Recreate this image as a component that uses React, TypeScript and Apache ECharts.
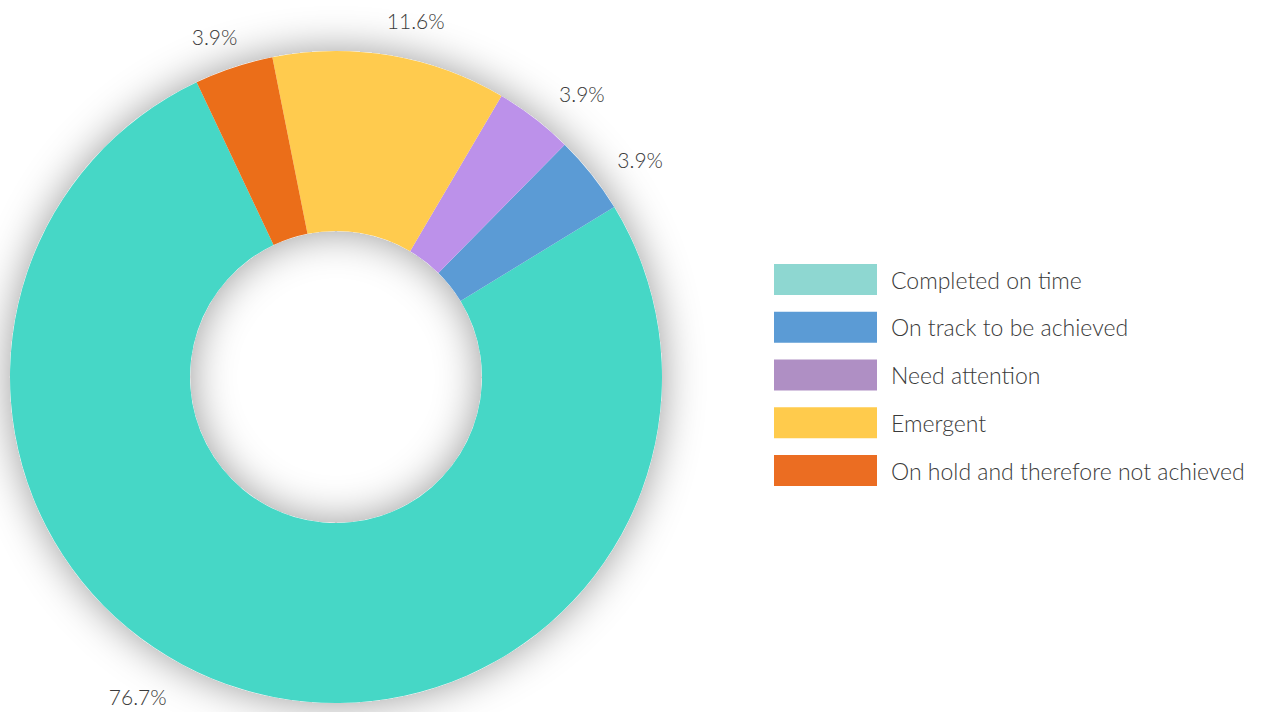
import React, { useEffect, useRef } from "react";
import * as echarts from "echarts";

const categories = [
  "Completed on time",
  "On track to be achieved",
  "Need attention",
  "Emergent",
  "On hold and therefore not achieved",
];
const values = [76.7, 3.9, 3.9, 11.6, 3.9];
const sliceColors = ["#46D7C6", "#5B9BD5", "#BC91EA", "#FFCB4E", "#EB6E19"];
const legendColors = ["#8ED7D1", "#5B9BD5", "#AF8FC4", "#FFCB4C", "#EB6D22"];
// label nudges (px) relative to the default outside position
const labelNudges = [
  [-67, -6],
  [10, -6],
  [11, -14],
  [-11, -21],
  [13, -18],
];

const FONT = "Lato, 'Open Sans', sans-serif";

export default function App() {
  const ref = useRef<HTMLDivElement>(null);
  useEffect(() => {
    document.body.style.margin = "0";
    const chart = echarts.init(ref.current!, null, { renderer: "svg" });
    chart.setOption({
      animation: false,
      backgroundColor: "#ffffff",
      legend: {
        orient: "vertical",
        left: 769,
        top: 259,
        itemWidth: 103,
        itemHeight: 31,
        itemGap: 16.75,
        icon: "rect",
        selectedMode: false,
        data: categories.map((c, i) => ({
          name: c,
          itemStyle: { color: legendColors[i] },
        })),
        textStyle: {
          fontFamily: FONT,
          fontWeight: 300,
          fontSize: 23,
          color: "#3a3a3a",
          padding: [0, 0, 0, 9],
        },
      },
      series: [
        {
          type: "pie",
          silent: true,
          center: [336, 377],
          radius: [146, 326],
          label: { show: false },
          labelLine: { show: false },
          itemStyle: {
            color: "#ffffff",
            shadowBlur: 42,
            shadowColor: "rgba(0,0,0,0.4)",
          },
          data: [{ name: "", value: 1 }],
          legendHoverLink: false,
        },
        {
          type: "pie",
          center: [336, 377],
          radius: [146, 326],
          startAngle: 115.3,
          clockwise: false,
          avoidLabelOverlap: false,
          data: categories.map((c, i) => ({
            name: c,
            value: values[i],
            itemStyle: { color: sliceColors[i] },
          })),
          label: {
            show: true,
            position: "outside",
            formatter: (p: any) => p.value.toFixed(1) + "%",
            fontFamily: FONT,
            fontWeight: 300,
            fontSize: 21,
            color: "#3a3a3a",
          },
          labelLine: { show: false, length: 14, length2: 0 },
          labelLayout: (p: any) => {
            const n = labelNudges[p.dataIndex] || [0, 0];
            return { dx: n[0], dy: n[1] };
          },
        },
      ],
    });
    return () => chart.dispose();
  }, []);
  return <div ref={ref} style={{ width: 1264, height: 712 }} />;
}
